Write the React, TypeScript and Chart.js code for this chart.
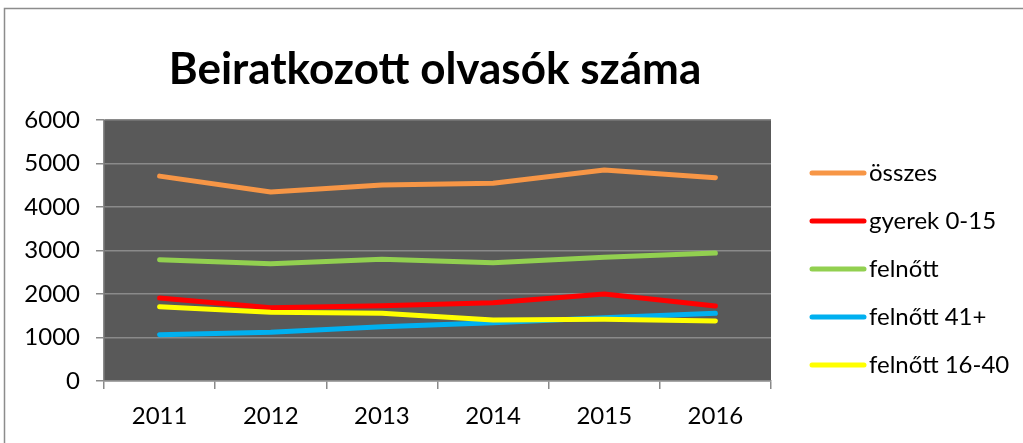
import React, { useEffect, useRef } from "react";
import { Chart, registerables } from "chart.js";

Chart.register(...registerables);

const titleText = "Beiratkozott olvasók száma";
const years = ["2011", "2012", "2013", "2014", "2015", "2016"];
const seriesNames = ["összes", "gyerek 0-15", "felnőtt", "felnőtt 41+", "felnőtt 16-40"];
const seriesColors = ["#F79646", "#FF0000", "#92D050", "#00B0F0", "#FFFF00"];
const osszes = [4710, 4345, 4506, 4545, 4850, 4674];
const gyerek = [1908, 1686, 1730, 1800, 2000, 1724];
const felnott = [2790, 2697, 2800, 2720, 2843, 2942];
const felnott41 = [1064, 1120, 1249, 1341, 1456, 1556];
const felnott1640 = [1709, 1579, 1556, 1402, 1418, 1379];
const seriesValues = [osszes, gyerek, felnott, felnott41, felnott1640];

const FONT = "Lato";
const GRID = "#8a8a8a";

const decorPlugin = {
  id: "decor",
  beforeDraw(chart: any) {
    const { ctx, chartArea } = chart;
    ctx.save();
    ctx.fillStyle = "#ffffff";
    ctx.fillRect(0, 0, chart.width, chart.height);
    ctx.strokeStyle = "#8c8c8c";
    ctx.lineWidth = 1.5;
    ctx.strokeRect(4.5, 8.5, chart.width + 10, chart.height + 10);
    ctx.fillStyle = "#595959";
    ctx.fillRect(chartArea.left, chartArea.top, chartArea.right - chartArea.left, chartArea.bottom - chartArea.top);
    ctx.restore();
  },
  afterDraw(chart: any) {
    const { ctx } = chart;
    ctx.save();
    // title
    ctx.fillStyle = "#000000";
    ctx.font = `bold 44px ${FONT}`;
    ctx.textAlign = "center";
    ctx.textBaseline = "alphabetic";
    ctx.fillText(titleText, 435, 84);
    // legend
    ctx.font = `24px ${FONT}`;
    ctx.textAlign = "left";
    ctx.textBaseline = "middle";
    chart.data.datasets.forEach((ds: any, i: number) => {
      const y = 173 + i * 48;
      ctx.strokeStyle = ds.borderColor;
      ctx.lineWidth = 5;
      ctx.lineCap = "round";
      ctx.beginPath();
      ctx.moveTo(812, y);
      ctx.lineTo(864, y);
      ctx.stroke();
      ctx.fillStyle = "#000000";
      ctx.fillText(ds.label, 869, y);
    });
    ctx.restore();
  },
};

export default function App() {
  const ref = useRef<HTMLCanvasElement>(null);
  useEffect(() => {
    if (!ref.current) return;
    const chart = new Chart(ref.current, {
      type: "line",
      data: {
        labels: years,
        datasets: seriesNames.map((name, i) => ({
          label: name,
          data: seriesValues[i],
          borderColor: seriesColors[i],
          backgroundColor: seriesColors[i],
          borderWidth: 5,
          pointRadius: 0,
          tension: 0,
          borderCapStyle: "round",
          borderJoinStyle: "round",
          order: 5 - i,
        })),
      },
      options: {
        animation: false,
        responsive: true,
        maintainAspectRatio: false,
        layout: { padding: { top: 120, right: 252, bottom: 0, left: 0 } },
        plugins: {
          legend: { display: false },
          title: { display: false },
          tooltip: { enabled: false },
        },
        scales: {
          y: {
            min: 0,
            max: 6000,
            ticks: {
              stepSize: 1000,
              color: "#000",
              font: { family: FONT, size: 24 },
              padding: 16,
              callback: (v: any) => String(v),
            },
            grid: { color: GRID, tickColor: GRID, tickLength: 8, lineWidth: 1.5 },
            border: { color: GRID, width: 1.5 },
            afterFit: (s: any) => {
              s.width = 104;
            },
          },
          x: {
            offset: true,
            ticks: { color: "#000", font: { family: FONT, size: 24 }, padding: 13 },
            grid: { offset: true, drawOnChartArea: false, tickColor: GRID, tickLength: 8, lineWidth: 1.5 },
            border: { color: GRID, width: 1.5 },
            afterFit: (s: any) => {
              s.height = 62;
            },
          },
        },
      },
      plugins: [decorPlugin],
    });
    return () => chart.destroy();
  }, []);
  return (
    <div style={{ position: "fixed", left: 0, top: 0, width: 1023, height: 443 }}>
      <canvas ref={ref} />
    </div>
  );
}
